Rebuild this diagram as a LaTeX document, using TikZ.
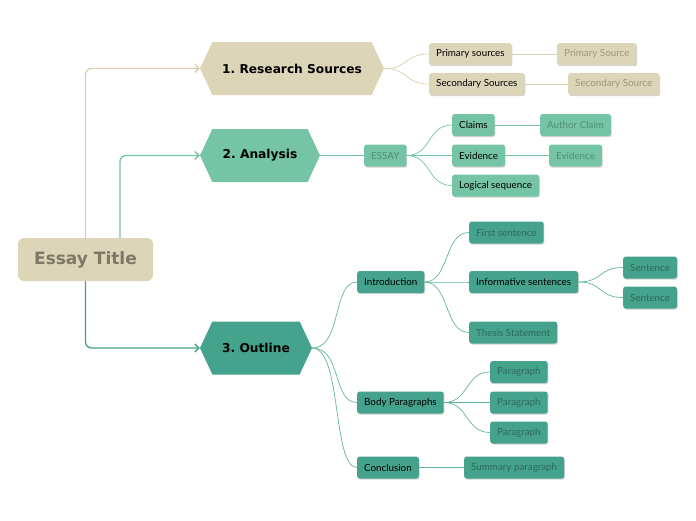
\documentclass[tikz,border=0pt]{standalone}
\usepackage{fontspec}
\setmainfont{Lato}
\newfontfamily\headfont{DejaVu Sans}
\usetikzlibrary{shapes.symbols,shadows,arrows.meta}
\definecolor{sand}{HTML}{DDD5B8}
\definecolor{sandline}{HTML}{D9D0AF}
\definecolor{sandtext}{HTML}{7D7864}
\definecolor{sandleaf}{HTML}{9C967F}
\definecolor{mint}{HTML}{76C4A6}
\definecolor{minttext}{HTML}{4F8F79}
\definecolor{teal}{HTML}{45A28C}
\definecolor{tealline}{HTML}{62B59C}
\definecolor{tealtext}{HTML}{2C6B5B}
\frenchspacing
\begin{document}
\begin{tikzpicture}[x=1pt, y=-1pt,
		box/.style={rounded corners=2.5pt, inner xsep=7pt, minimum height=22pt,
			font=\fontsize{9.8}{11}\selectfont,
			drop shadow={shadow xshift=0.8pt, shadow yshift=-1.2pt, opacity=0.35}},
		hexa/.style={signal, signal to=east and west, signal pointer angle=130,
			minimum height=53pt, inner sep=0pt, text=black,
			font=\headfont\bfseries\fontsize{12.2}{14}\selectfont},
		link/.style={line width=1.3pt, rounded corners=6pt,
			-{Straight Barb[length=4pt,width=8pt]}},
		twig/.style={line width=0.7pt}]
		\useasboundingbox (0,0) rectangle (696,520);
		% rdzeń
		\node[rounded corners=6pt, fill=sand, text=sandtext, minimum width=135pt,
			minimum height=43pt, font=\headfont\bfseries\fontsize{17}{19}\selectfont]
			(title) at (85.5,259.5) {Essay Title};
		\node[hexa, fill=sand, minimum width=184pt] (res) at (292,68.5) {1. Research Sources};
		\node[hexa, fill=mint, minimum width=120pt] (ana) at (260,155.5) {2. Analysis};
		\node[hexa, fill=teal, minimum width=112pt] (out) at (256,348) {3. Outline};
		\draw[link, sandline] (title.north) |- (res.west);
		\draw[link, mint] ([xshift=34.5pt]title.north) |- (ana.west);
		\draw[link, teal] (title.south) |- (out.west);
		% 1. zrodla
		\node[box, fill=sand, anchor=west] (prim) at (429,54) {Primary sources};
		\node[box, fill=sand, anchor=west] (sec) at (429,84) {Secondary Sources};
		\node[box, fill=sand, text=sandleaf, anchor=west] (primx) at (557,54) {Primary Source};
		\node[box, fill=sand, text=sandleaf, anchor=west] (secx) at (568,84) {Secondary Source};
		\foreach \c in {prim,sec}
			\draw[twig, sandline] (res.east) .. controls +(25,0) and +(-25,0) .. (\c.west);
		\draw[twig, sandline] (prim) -- (primx);
		\draw[twig, sandline] (sec) -- (secx);
		% 2. analiza
		\node[box, fill=mint, text=minttext, anchor=west] (essay) at (364,155.5) {ESSAY};
		\node[box, fill=mint, anchor=west] (claims) at (452,125) {Claims};
		\node[box, fill=mint, anchor=west] (evid) at (452,155.5) {Evidence};
		\node[box, fill=mint, anchor=west] (logic) at (452,185.5) {Logical sequence};
		\node[box, fill=mint, text=minttext, anchor=west] (author) at (540,125) {Author Claim};
		\node[box, fill=mint, text=minttext, anchor=west] (evidx) at (549,155.5) {Evidence};
		\draw[twig, mint] (ana.east) -- (essay);
		\foreach \c in {claims,evid,logic}
			\draw[twig, mint] (essay.east) .. controls +(25,0) and +(-25,0) .. (\c.west);
		\draw[twig, mint] (claims) -- (author);
		\draw[twig, mint] (evid) -- (evidx);
		% 3. plan
		\node[box, fill=teal, anchor=west] (intro) at (357,282) {Introduction};
		\node[box, fill=teal, anchor=west] (body) at (357,402.5) {Body Paragraphs};
		\node[box, fill=teal, anchor=west] (concl) at (357,467.5) {Conclusion};
		\node[box, fill=teal, text=tealtext, anchor=west] (first) at (469,232.5) {First sentence};
		\node[box, fill=teal, anchor=west] (info) at (469,282) {Informative sentences};
		\node[box, fill=teal, text=tealtext, anchor=west] (thesis) at (469,332.5) {Thesis Statement};
		\node[box, fill=teal, text=tealtext, anchor=west] (sent1) at (623,267.5) {Sentence};
		\node[box, fill=teal, text=tealtext, anchor=west] (sent2) at (623,297.5) {Sentence};
		\node[box, fill=teal, text=tealtext, anchor=west] (par1) at (490,372) {Paragraph};
		\node[box, fill=teal, text=tealtext, anchor=west] (par2) at (490,402.5) {Paragraph};
		\node[box, fill=teal, text=tealtext, anchor=west] (par3) at (490,432.5) {Paragraph};
		\node[box, fill=teal, text=tealtext, anchor=west] (summ) at (464,467.5) {Summary paragraph};
		\foreach \c in {intro,body,concl}
			\draw[twig, tealline] (out.east) .. controls +(30,0) and +(-25,0) .. (\c.west);
		\foreach \c in {first,info,thesis}
			\draw[twig, tealline] (intro.east) .. controls +(25,0) and +(-25,0) .. (\c.west);
		\foreach \c in {sent1,sent2}
			\draw[twig, tealline] (info.east) .. controls +(25,0) and +(-25,0) .. (\c.west);
		\foreach \c in {par1,par2,par3}
			\draw[twig, tealline] (body.east) .. controls +(25,0) and +(-25,0) .. (\c.west);
		\draw[twig, tealline] (concl) -- (summ);
	\end{tikzpicture}
\end{document}
